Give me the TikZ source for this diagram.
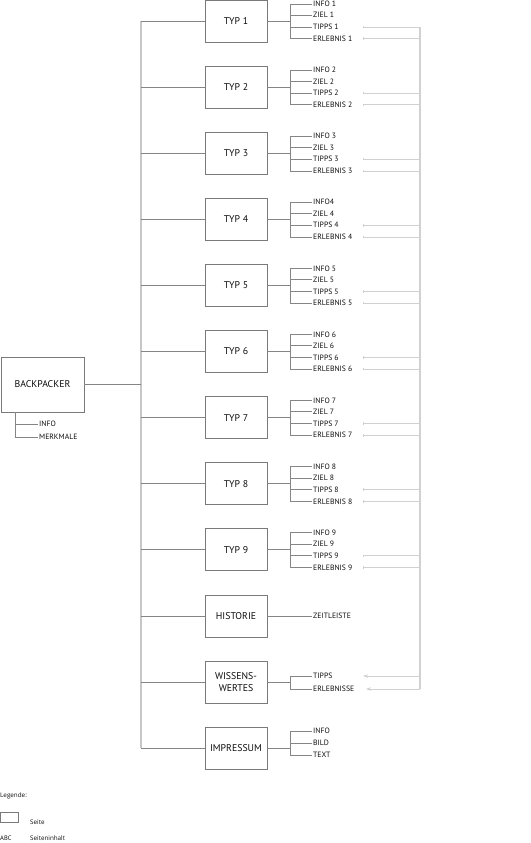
\documentclass[tikz,border=0pt]{standalone}
\usepackage{fontspec}
\setmainfont{PT Sans}
\newfontfamily\legfont{Open Sans}
\usetikzlibrary{arrows.meta}
\definecolor{boxgray}{gray}{0.48}
\definecolor{linegray}{gray}{0.52}
\definecolor{spinegray}{gray}{0.78}
\definecolor{xgray}{gray}{0.82}
\definecolor{txt}{gray}{0.05}
\begin{document}
\begin{tikzpicture}[x=1pt,y=-1pt,
  page/.style={draw=boxgray, line width=0.8pt, minimum width=62pt, minimum height=42pt,
    inner sep=0pt, font=\fontsize{9.8}{11}\selectfont, align=center, text=txt},
  lbl/.style={anchor=west, inner sep=1pt, font=\fontsize{7.7}{8}\selectfont, text=txt},
  conn/.style={draw=linegray, line width=0.7pt},
  spine/.style={draw=spinegray, line width=1.4pt},
  xlink/.style={draw=xgray, line width=0.8pt},
  xbus/.style={draw=xgray, line width=1.5pt},
  legtxt/.style={anchor=west, inner sep=0pt, font=\legfont\fontsize{6.3}{7}\selectfont, text=txt},
]
\useasboundingbox (0,0) rectangle (530,843);

% main page
\node[page, minimum width=83pt, minimum height=55pt] (bp) at (42.5,384.5) {BACKPACKER};
\coordinate (bpj) at (15,412);
\node[lbl] (bpinfo) at (38,424) {INFO};
\node[lbl] (bpmerk) at (38,437) {MERKMALE};
\draw[conn] (bpj) |- (bpinfo.west);
\draw[conn] (bpj) |- (bpmerk.west);

% spine
\coordinate (spt) at (141,21);
\coordinate (spb) at (141,748);
\coordinate (spm) at (141,384.5);
\draw[spine] (spt) -- (spb);
\draw[conn] (bp.east) -- (spm);

% bus for cross links
\coordinate (bust) at (420,27);
\coordinate (busb) at (420,689);
\draw[xbus] (bust) -- (busb);

% type pages
\foreach \k/\inf in {1/INFO 1,2/INFO 2,3/INFO 3,4/INFO4,5/INFO 5,6/INFO 6,7/INFO 7,8/INFO 8,9/INFO 9}{
  \pgfmathsetmacro\cy{21+66.1*(\k-1)}
  \node[page] (t\k) at (236,\cy) {TYP \k};
  \coordinate (s\k) at (141,\cy);
  \coordinate (j\k) at (290,\cy);
  \node[lbl] (in\k) at (312,\cy-17) {\inf};
  \node[lbl] (zi\k) at (312,\cy-5.8) {ZIEL \k};
  \node[lbl] (tp\k) at (312,\cy+6) {TIPPS \k};
  \node[lbl] (er\k) at (312,\cy+17.7) {ERLEBNIS \k};
  \draw[conn] (s\k) -- (t\k.west);
  \draw[conn] (t\k.east) -- (j\k);
  \draw[conn] (j\k) |- (in\k.west);
  \draw[conn] (j\k) |- (zi\k.west);
  \draw[conn] (j\k) |- (tp\k.west);
  \draw[conn] (j\k) |- (er\k.west);
  \coordinate (a\k) at (363,\cy+6);
  \coordinate (b\k) at (363,\cy+17.7);
  \draw[xlink, {Bar[width=2.5pt,line width=0.6pt]}-] (a\k) -- (a\k -| bust);
  \draw[xlink, {Bar[width=2.5pt,line width=0.6pt]}-] (b\k) -- (b\k -| bust);
}

% Historie
\node[page] (hist) at (236,616) {HISTORIE};
\coordinate (sh) at (141,616);
\node[lbl] (zeit) at (312,616) {ZEITLEISTE};
\draw[conn] (sh) -- (hist.west);
\draw[conn] (hist.east) -- (zeit.west);

% Wissenswertes
\node[page, font=\fontsize{9.8}{12.5}\selectfont] (wiss) at (236,682) {WISSENS-\\WERTES};
\coordinate (sw) at (141,682);
\coordinate (jw) at (290,682);
\node[lbl] (wtp) at (312,676) {TIPPS};
\node[lbl] (wer) at (312,689) {ERLEBNISSE};
\draw[conn] (sw) -- (wiss.west);
\draw[conn] (wiss.east) -- (jw);
\draw[conn] (jw) |- (wtp.west);
\draw[conn] (jw) |- (wer.west);
\coordinate (wa) at (363,676);
\coordinate (wb) at (366,689);
\draw[xlink, -{Stealth[length=5pt,width=3.5pt]}] (wa -| bust) -- (wa);
\draw[xlink, -{Stealth[length=5pt,width=3.5pt]}] (busb) -- (wb);

% Impressum
\node[page] (imp) at (236,748) {IMPRESSUM};
\coordinate (ji) at (290,748);
\node[lbl] (iinfo) at (312,731) {INFO};
\node[lbl] (ibild) at (312,743) {BILD};
\node[lbl] (itext) at (312,755) {TEXT};
\draw[conn] (spb) -- (imp.west);
\draw[conn] (imp.east) -- (ji);
\draw[conn] (ji) |- (iinfo.west);
\draw[conn] (ji) |- (ibild.west);
\draw[conn] (ji) |- (itext.west);

% legend
\node[legtxt] (leg) at (0,796) {Legende:};
\node[draw=boxgray, line width=0.6pt, minimum width=17pt, minimum height=10pt, inner sep=0pt, anchor=north west] (legbox) at (0.5,812) {};
\node[legtxt] (legseite) at (30,822) {Seite};
\node[anchor=west, inner sep=0pt, font=\fontsize{6.5}{7}\selectfont, text=txt] (legabc) at (0,838) {ABC};
\node[legtxt] (leginh) at (30,838) {Seiteninhalt};
\end{tikzpicture}
\end{document}
